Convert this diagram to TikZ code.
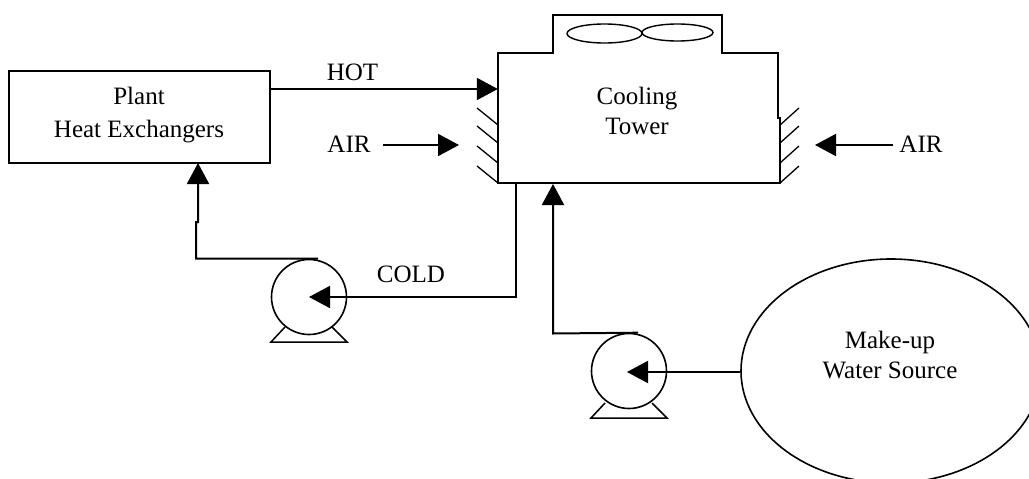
\documentclass[tikz,border=0pt]{standalone}
\usepackage{fontspec}
\setmainfont{Liberation Serif}
\usetikzlibrary{arrows.meta,shapes.geometric,calc}
\tikzset{
  x=1pt,y=-1pt,
  pipe/.style={draw=black,line width=2pt,line join=miter},
  thin line/.style={draw=black,line width=1.5pt},
  flow/.style={pipe,-{Triangle[length=21pt,width=22pt]}},
  label text/.style={inner sep=0pt,align=center,font=\fontsize{25}{30}\selectfont},
  box/.style={draw=black,line width=2pt,rectangle,inner sep=0pt},
  pump/.style={draw=black,line width=1.6pt,circle,minimum size=75pt,inner sep=0pt},
  fan/.style={draw=black,line width=1.4pt,ellipse,inner sep=0pt},
  hatch/.style={draw=black,line width=1.3pt},
}
\begin{document}
\begin{tikzpicture}
\useasboundingbox (0,0) rectangle (1029,479);
\clip (0,0) rectangle (1029,479);
\fill[white] (0,0) rectangle (1029,479);

% Equipment
\node[box,minimum width=261pt,minimum height=92pt] (plant) at (139.5,117) {};
\node[label text] (plantT) at (139,114.7) {Plant\\[3pt]Heat Exchangers};
\node[rectangle,inner sep=0pt,minimum width=281pt,minimum height=130pt] (tower) at (638.5,118) {};
\node[label text] (towerT) at (637,111) {Cooling\\Tower};
\draw[pipe] (498,183) -- (498,53) -- (553,53) -- (553,15) -- (722,15) -- (722,53) -- (778,53) -- (778,118) -- (780,118) -- (780,183) -- cycle;
\node[fan,minimum width=75pt,minimum height=19pt] (fanA) at (604.5,33.5) {};
\node[fan,minimum width=71pt,minimum height=17pt] (fanB) at (677.5,32.5) {};
\node[pump] (pumpA) at (309,297) {};
\node[pump] (pumpB) at (629,371) {};
\node[draw=black,line width=1.6pt,ellipse,minimum width=300pt,minimum height=224pt,inner sep=0pt] (source) at (891,371) {};
\node[label text] (sourceT) at (890,355) {Make-up\\Water Source};

% Pump feet
\draw[thin line,line join=miter] (285,327) -- (271,342) -- (347,342) -- (332,327);
\draw[thin line,line join=miter] (605,403) -- (591,418) -- (667,418) -- (652,403);

% Louvres
\foreach \y in {125,143,163,183}{
  \draw[hatch] (498,\y) -- +(-21,-17);
  \draw[hatch] (780,\y) -- +(19,-17);
}

% Labels
\node[label text,anchor=base] (hot) at (352.5,80) {HOT};
\node[label text,anchor=base] (airL) at (349,152) {AIR};
\node[label text,anchor=base] (airR) at (921,152) {AIR};
\node[label text,anchor=base] (cold) at (411,282) {COLD};

% Hot water and air
\coordinate (hotS) at (plant.east |- 0,89);
\coordinate (hotE) at (tower.west |- 0,89);
\draw[flow] (hotS) -- (hotE);
\coordinate (airLs) at (383,145);
\coordinate (airLt) at (459,145);
\coordinate (airRs) at (893,145);
\coordinate (airRt) at (815,145);
\draw[flow] (airLs) -- (airLt);
\draw[flow] (airRs) -- (airRt);

% Cold return: tower -> pump -> plant
\coordinate (coldS) at (516,183);
\draw[flow] (coldS) -- (516,297) -- (pumpA.center);
\coordinate (pumpAtop) at ($(pumpA.north)+(9,0)$);
\draw[flow] (pumpAtop) -- (196,258.5) -- (196,222) -- (198,222) -- (198,163);

% Make-up water
\coordinate (srcS) at (source.west |- 0,372);
\coordinate (pumpBin) at (627,372);
\draw[flow] (srcS) -- (pumpBin);
\coordinate (pumpBtop) at ($(pumpB.north)+(9,0)$);
\draw[flow] (pumpBtop) -- (553,333.5) -- (553,184);
\end{tikzpicture}
\end{document}
